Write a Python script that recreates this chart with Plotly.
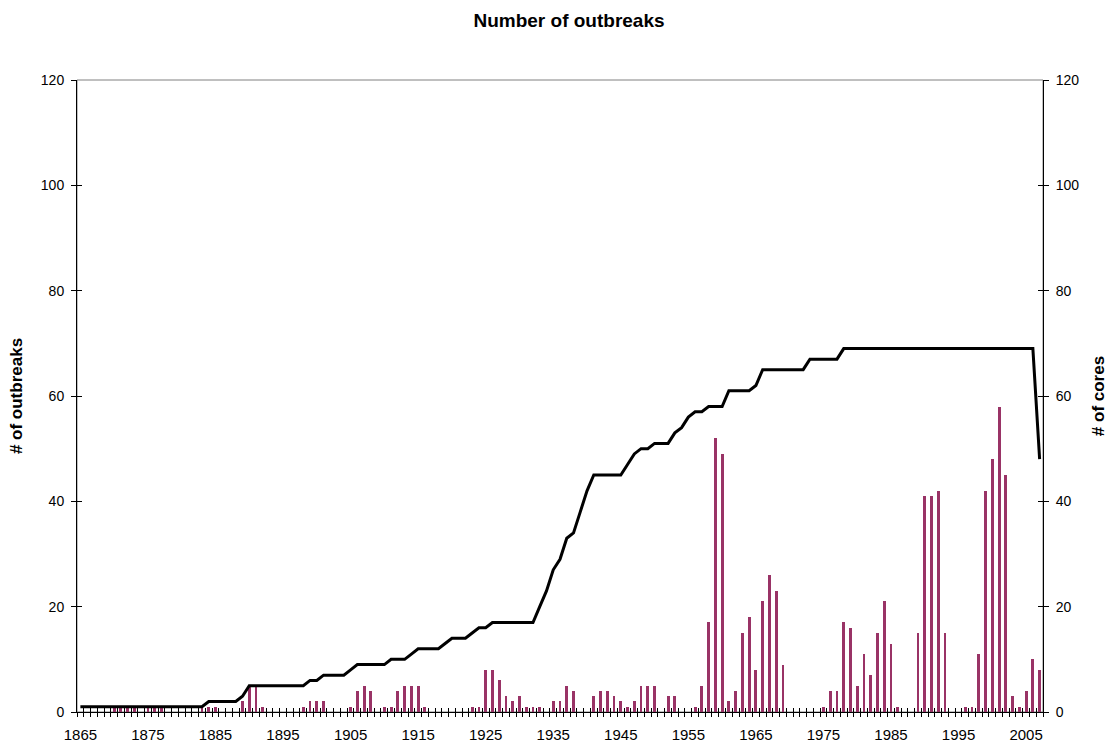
import plotly.graph_objects as go
import numpy as np

# Years covered by the record
years = list(range(1865, 2008))

# Outbreaks recorded per year (left axis)
outbreaks = [
    0, 0, 0, 0, 0, 1, 1, 1, 1, 0,        # 1865-1874
    1, 1, 1, 0, 0, 0, 0, 0, 1, 1,        # 1875-1884
    1, 0, 0, 0, 2, 5, 5, 1, 0, 0,        # 1885-1894
    0, 0, 0, 1, 2, 2, 2, 0, 0, 0,        # 1895-1904
    1, 4, 5, 4, 0, 1, 1, 4, 5, 5,        # 1905-1914
    5, 1, 0, 0, 0, 0, 0, 0, 1, 1,        # 1915-1924
    8, 8, 6, 3, 2, 3, 1, 1, 1, 0,        # 1925-1934
    2, 2, 5, 4, 0, 0, 3, 4, 4, 3,        # 1935-1944
    2, 1, 2, 5, 5, 5, 0, 3, 3, 0,        # 1945-1954
    0, 1, 5, 17, 52, 49, 2, 4, 15, 18,   # 1955-1964
    8, 21, 26, 23, 9, 0, 0, 0, 0, 0,     # 1965-1974
    1, 4, 4, 17, 16, 5, 11, 7, 15, 21,   # 1975-1984
    13, 1, 0, 0, 15, 41, 41, 42, 15, 0,  # 1985-1994
    0, 1, 1, 11, 42, 48, 58, 45, 3, 1,   # 1995-2004
    4, 10, 8,                            # 2005-2007
]

# Number of cores covering each year (right axis)
cores = [
    1, 1, 1, 1, 1, 1, 1, 1, 1, 1,             # 1865-1874
    1, 1, 1, 1, 1, 1, 1, 1, 1, 2,             # 1875-1884
    2, 2, 2, 2, 3, 5, 5, 5, 5, 5,             # 1885-1894
    5, 5, 5, 5, 6, 6, 7, 7, 7, 7,             # 1895-1904
    8, 9, 9, 9, 9, 9, 10, 10, 10, 11,         # 1905-1914
    12, 12, 12, 12, 13, 14, 14, 14, 15, 16,   # 1915-1924
    16, 17, 17, 17, 17, 17, 17, 17, 20, 23,   # 1925-1934
    27, 29, 33, 34, 38, 42, 45, 45, 45, 45,   # 1935-1944
    45, 47, 49, 50, 50, 51, 51, 51, 53, 54,   # 1945-1954
    56, 57, 57, 58, 58, 58, 61, 61, 61, 61,   # 1955-1964
    62, 65, 65, 65, 65, 65, 65, 65, 67, 67,   # 1965-1974
    67, 67, 67, 69, 69, 69, 69, 69, 69, 69,   # 1975-1984
    69, 69, 69, 69, 69, 69, 69, 69, 69, 69,   # 1985-1994
    69, 69, 69, 69, 69, 69, 69, 69, 69, 69,   # 1995-2004
    69, 69, 48,                               # 2005-2007
]

label_years = list(range(1865, 2006, 10))
y_ticks = list(range(0, 121, 20))

FONT = "Liberation Sans, Arial, sans-serif"
xrange = [years[0] - 0.5, years[-1] + 0.5]
boundaries = list(np.arange(years[0] - 0.5, years[-1] + 1, 1.0))

fig = go.Figure()
fig.add_trace(go.Bar(
    x=years, y=outbreaks, width=0.42,
    marker=dict(color="#993366", line=dict(width=0)),
    name="# of outbreaks", xaxis="x", yaxis="y",
))
fig.add_trace(go.Scatter(
    x=years, y=cores, mode="lines",
    line=dict(color="black", width=3),
    name="# of cores", xaxis="x", yaxis="y2",
))
# empty traces so the tick-only overlay axes are laid out
for xa, ya in [("x2", "y3"), ("x3", "y4")]:
    fig.add_trace(go.Scatter(x=[None], y=[None], xaxis=xa, yaxis=ya,
                             showlegend=False, hoverinfo="skip"))

tick_overlay = dict(range=xrange, showgrid=False, zeroline=False,
                    showticklabels=False, showline=False, automargin=False,
                    tickmode="array", tickvals=boundaries,
                    ticklen=4, tickcolor="black", tickwidth=1)
y_overlay = dict(range=[0, 120], showgrid=False, zeroline=False,
                 showticklabels=False, showline=False, automargin=False,
                 tickmode="array", tickvals=y_ticks,
                 ticklen=5, tickcolor="black", tickwidth=1)

fig.update_layout(
    width=1112, height=745,
    paper_bgcolor="white", plot_bgcolor="white",
    showlegend=False, bargap=0,
    margin=dict(l=77, r=69, t=80, b=33),
    font=dict(family=FONT, size=14, color="black"),
    title=dict(text="<b>Number of outbreaks</b>", font=dict(size=19, family=FONT),
               xref="container", x=0.5117, xanchor="center",
               yref="container", y=0.973, yanchor="middle"),
    xaxis=dict(range=xrange, tickmode="array", tickvals=label_years,
               ticktext=[str(y) for y in label_years], ticks="",
               showline=True, linecolor="black", linewidth=1, automargin=False,
               showgrid=False, zeroline=False, ticklabelstandoff=9,
               tickfont=dict(size=15)),
    xaxis2=dict(overlaying="x", anchor="y3", ticks="outside", **tick_overlay),
    xaxis3=dict(overlaying="x", anchor="y4", ticks="inside", **tick_overlay),
    yaxis=dict(range=[0, 120], tickmode="array", tickvals=y_ticks,
               ticks="outside", ticklen=5, tickcolor="black", automargin=False,
               showline=True, linecolor="black", linewidth=1,
               showgrid=False, zeroline=False, ticklabelstandoff=4,
               tickfont=dict(size=14),
               title=dict(text="<b># of outbreaks</b>", font=dict(size=17),
                          standoff=13)),
    yaxis2=dict(range=[0, 120], overlaying="y", side="right", anchor="x",
                tickmode="array", tickvals=y_ticks, automargin=False,
                ticks="outside", ticklen=5, tickcolor="black",
                showline=True, linecolor="black", linewidth=1,
                showgrid=False, zeroline=False, ticklabelstandoff=4,
                tickfont=dict(size=14),
                title=dict(text="<b># of cores</b>", font=dict(size=17),
                           standoff=13)),
    yaxis3=dict(overlaying="y", side="left", anchor="x2", ticks="inside", **y_overlay),
    yaxis4=dict(overlaying="y", side="right", anchor="x3", ticks="inside", **y_overlay),
    shapes=[dict(type="rect", xref="paper", yref="paper", x0=0, x1=1, y0=0, y1=1,
                 line=dict(color="#808080", width=1), layer="below")],
)

fig.write_html("out.html")
